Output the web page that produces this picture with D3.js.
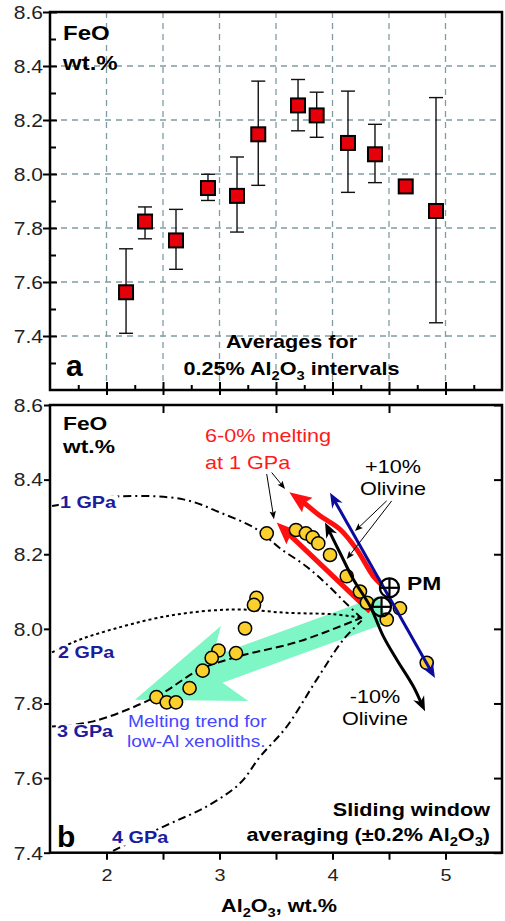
<!DOCTYPE html>
<html>
<head>
<meta charset="utf-8">
<script src="https://cdn.jsdelivr.net/npm/d3@7"></script>
<style>
  body { margin: 0; background: #fff; }
  svg { font-family: "Liberation Sans", Arial, Helvetica, sans-serif; }
</style>
</head>
<body>
<svg id="chart" width="505" height="921"></svg>
<script>
// ---- panel a: averages for 0.25% Al2O3 intervals ----
var avgAl  = [2.173, 2.341, 2.615, 2.898, 3.155, 3.343, 3.695, 3.860, 4.137, 4.376, 4.648, 4.916];
var avgFeO = [7.562, 7.824, 7.754, 7.948, 7.919, 8.147, 8.254, 8.217, 8.115, 8.073, 7.954, 7.863];
var avgLo  = [7.410, 7.760, 7.647, 7.902, 7.785, 7.958, 8.160, 8.136, 7.932, 7.968, 7.948, 7.449];
var avgHi  = [7.723, 7.878, 7.869, 7.999, 8.063, 8.344, 8.350, 8.303, 8.307, 8.184, 7.960, 8.283];

// ---- panel b: sliding window averages ----
var winAl  = [3.418, 3.677, 3.765, 3.825, 3.874, 3.978, 4.126, 4.243, 4.305, 4.480, 4.597,
              3.327, 3.305, 3.226, 3.146, 2.991, 2.931, 2.851, 2.735, 2.442, 2.533, 2.615, 4.834];
var winFeO = [8.256, 8.265, 8.256, 8.245, 8.229, 8.198, 8.141, 8.100, 8.070, 8.025, 8.055,
              8.083, 8.064, 8.001, 7.935, 7.942, 7.922, 7.888, 7.841, 7.817, 7.803, 7.803, 7.909];

// melting curves at 1-4 GPa
var gpa1Al  = [1.518, 2.104, 2.680, 3.004, 3.329, 3.535, 3.757, 3.934, 4.111, 4.259];
var gpa1FeO = [8.329, 8.355, 8.347, 8.312, 8.267, 8.216, 8.170, 8.124, 8.071, 8.028];
var gpa2Al  = [1.518, 1.721, 1.942, 2.532, 3.122, 3.595, 4.007, 4.258];
var gpa2FeO = [7.937, 7.966, 7.989, 8.034, 8.052, 8.043, 8.039, 8.030];
var gpa3Al  = [1.518, 1.883, 2.444, 2.827, 3.181, 3.712, 4.258];
var gpa3FeO = [7.738, 7.752, 7.819, 7.891, 7.927, 7.967, 8.030];
var gpa4Al  = [2.058, 2.533, 2.887, 3.181, 3.358, 3.595, 3.860, 4.096, 4.258];
var gpa4FeO = [7.405, 7.474, 7.524, 7.586, 7.657, 7.738, 7.864, 7.971, 8.022];

// 6-0% melting at 1 GPa (red)
var meltUpAl  = [4.438, 4.361, 4.214, 4.066, 3.889, 3.739, 3.618];
var meltUpFeO = [8.117, 8.141, 8.213, 8.267, 8.303, 8.340, 8.366];
var meltLoAl  = [4.332, 3.506];
var meltLoFeO = [8.047, 8.285];

// +/-10% olivine (black and blue)
var olAl   = [4.819, 4.715, 4.568, 4.450, 4.332, 4.184, 4.066, 3.934];
var olFeO  = [7.779, 7.846, 7.918, 7.980, 8.061, 8.133, 8.204, 8.285];
var ol2Al  = [4.907, 3.978];
var ol2FeO = [7.868, 8.365];

// melting trend for low-Al xenoliths (green arrow): tail, tip
var trendAl  = [4.447, 2.252];
var trendFeO = [8.052, 7.810];

// PM symbols
var pmAl  = [4.504, 4.434];
var pmFeO = [8.110, 8.059];

var aMajor = [7.4, 7.6, 7.8, 8.0, 8.2, 8.4, 8.6];
var aMinor = [7.3, 7.5, 7.7, 7.9, 8.1, 8.3, 8.5];
var bMajor = [7.4, 7.6, 7.8, 8.0, 8.2, 8.4, 8.6];
var xHalf = [2, 2.5, 3, 3.5, 4, 4.5, 5];
var xQuarter = [1.75, 2.25, 2.75, 3.25, 3.75, 4.25, 4.75, 5.25];

var svg = d3.select("#chart");
var xL = 50, xR = 502, aTop = 12, aBot = 390, bTop = 405, bBot = 852.7;

var x = d3.scaleLinear().domain([1.5, 5.5]).range([xL, xR]);
var ya = d3.scaleLinear().domain([7.2, 8.6]).range([aBot, aTop]);
var yb = d3.scaleLinear().domain([7.4, 8.6]).range([bBot, bTop]);

// text with the reference's slightly wide lettering
function addText(g, px, py, parts, size, weight, fill, anchor, sx) {
  var t = g.append("g")
    .attr("transform", "translate(" + px + "," + py + ") scale(" + (sx || 1.2) + ",1)")
    .append("text")
    .attr("font-size", size)
    .attr("font-weight", weight || "normal")
    .attr("fill", fill || "#000")
    .attr("text-anchor", anchor || "start");
  var shift = 0;
  parts.forEach(function(p) {
    var sub = typeof p !== "string";
    var s = t.append("tspan").text(sub ? p.sub : p);
    var target = sub ? size * 0.25 : 0;
    if (target !== shift) { s.attr("dy", target - shift); shift = target; }
    if (sub) s.attr("font-size", size * 0.68);
  });
  return t;
}

// white patch behind a label so the curve under it is hidden
function halo(t) {
  var bb = t.node().getBBox();
  d3.select(t.node().parentNode).insert("rect", "text")
    .attr("x", bb.x - 1).attr("y", bb.y + 2)
    .attr("width", bb.width + 2).attr("height", bb.height - 3)
    .attr("fill", "#fff");
  return t;
}

function arrowHead(g, tip, from, len, hw, back, color) {
  var dx = tip[0] - from[0], dy = tip[1] - from[1], L = Math.hypot(dx, dy);
  var ux = dx / L, uy = dy / L, nx = -uy, ny = ux;
  var b = [tip[0] - ux * len, tip[1] - uy * len];
  var pts = [tip, [b[0] + nx * hw, b[1] + ny * hw],
             [tip[0] - ux * len * back, tip[1] - uy * len * back],
             [b[0] - nx * hw, b[1] - ny * hw]];
  g.append("path").attr("d", "M" + pts.join("L") + "Z").attr("fill", color);
}

function arrowLine(g, xs, ys, o) {
  var pts = xs.map(function(v, i) { return [x(v), yb(ys[i])]; });
  var n = pts.length;
  var tipEnd = pts[n - 1], fromEnd = pts[n - 2];
  var tipStart = pts[0], fromStart = pts[1];
  var line = pts.slice();
  function pull(tip, from) {
    var dx = tip[0] - from[0], dy = tip[1] - from[1], L = Math.hypot(dx, dy);
    return [tip[0] - dx / L * o.len * 0.6, tip[1] - dy / L * o.len * 0.6];
  }
  if (o.end) line[n - 1] = pull(tipEnd, fromEnd);
  if (o.start) line[0] = pull(tipStart, fromStart);
  g.append("path")
    .attr("d", d3.line().curve(d3.curveCatmullRom)(line))
    .attr("fill", "none")
    .attr("stroke", o.color)
    .attr("stroke-width", o.width);
  if (o.end) arrowHead(g, tipEnd, fromEnd, o.len, o.hw, o.back, o.color);
  if (o.start) arrowHead(g, tipStart, fromStart, o.len, o.hw, o.back, o.color);
}

// ================= panel a =================
var ga = svg.append("g");

ga.append("g").selectAll("line").data([7.4, 7.6, 7.8, 8.0, 8.2, 8.4]).enter().append("line")
  .attr("x1", xL).attr("x2", xR)
  .attr("y1", function(d) { return ya(d); }).attr("y2", function(d) { return ya(d); })
  .attr("stroke", "#7f9ca3").attr("stroke-width", 1.3).attr("stroke-dasharray", "6,5");
ga.append("g").selectAll("line").data(xHalf).enter().append("line")
  .attr("y1", aTop).attr("y2", aBot)
  .attr("x1", function(d) { return x(d); }).attr("x2", function(d) { return x(d); })
  .attr("stroke", "#7f9ca3").attr("stroke-width", 1.3).attr("stroke-dasharray", "6,5");

var aIdx = d3.range(avgAl.length);
ga.append("g").selectAll("g").data(aIdx).enter().append("g").each(function(i) {
  var g = d3.select(this), cx = x(avgAl[i]);
  g.append("line").attr("x1", cx).attr("x2", cx).attr("y1", ya(avgHi[i])).attr("y2", ya(avgLo[i]));
  g.append("line").attr("x1", cx - 7).attr("x2", cx + 7).attr("y1", ya(avgHi[i])).attr("y2", ya(avgHi[i]));
  g.append("line").attr("x1", cx - 7).attr("x2", cx + 7).attr("y1", ya(avgLo[i])).attr("y2", ya(avgLo[i]));
}).attr("stroke", "#111").attr("stroke-width", 1.4);

ga.append("g").selectAll("rect").data(aIdx).enter().append("rect")
  .attr("x", function(i) { return x(avgAl[i]) - 7; })
  .attr("y", function(i) { return ya(avgFeO[i]) - 7; })
  .attr("width", 14).attr("height", 14)
  .attr("fill", "#e5000a").attr("stroke", "#000").attr("stroke-width", 2);

ga.append("rect").attr("x", xL).attr("y", aTop).attr("width", xR - xL).attr("height", aBot - aTop)
  .attr("fill", "none").attr("stroke", "#000").attr("stroke-width", 2.5);

var axA = ga.append("g").attr("transform", "translate(" + xL + ",0)")
  .call(d3.axisLeft(ya).tickValues(aMajor).tickSize(7).tickFormat(d3.format(".1f")));
ga.append("g").attr("transform", "translate(" + xL + ",0)")
  .call(d3.axisLeft(ya).tickValues(aMinor).tickSize(-6).tickFormat(""));
var axA3 = ga.append("g").attr("transform", "translate(0," + aBot + ")")
  .call(d3.axisBottom(x).tickValues(xHalf).tickSize(5).tickFormat(""));
ga.append("g").attr("transform", "translate(0," + aBot + ")")
  .call(d3.axisBottom(x).tickValues(xQuarter).tickSize(-5).tickFormat(""));
axA.selectAll(".tick line").attr("x1", 7);
axA3.selectAll(".tick line").attr("y1", -8);

addText(ga, 63, 40, ["FeO"], 20, "bold");
addText(ga, 63, 70, ["wt.%"], 20, "bold");
addText(ga, 66, 376, ["a"], 30, "bold", "#000", "start", 1);
addText(ga, 291.5, 348, ["Averages for"], 18, "bold", "#000", "middle");
addText(ga, 291.5, 375, ["0.25% Al", {sub: "2"}, "O", {sub: "3"}, " intervals"], 18, "bold", "#000", "middle");

// ================= panel b =================
var gb = svg.append("g");

// green trend arrow
(function() {
  var S = [x(trendAl[0]), yb(trendFeO[0])], T = [x(trendAl[1]), yb(trendFeO[1])];
  var dx = T[0] - S[0], dy = T[1] - S[1], L = Math.hypot(dx, dy);
  var ux = dx / L, uy = dy / L, nx = -uy, ny = ux;
  function p(back, side, base) {
    base = base || T;
    return [base[0] - ux * back + nx * side, base[1] - uy * back + ny * side];
  }
  var pts = [p(0, 14, S), p(88, 14), p(106, 40), T, p(106, -40), p(88, -14), p(0, -14, S)];
  gb.append("path").attr("d", "M" + pts.join("L") + "Z").attr("fill", "#7ef6c6");
})();

var curveLine = d3.line().curve(d3.curveCatmullRom)
  .x(function(d) { return x(d[0]); }).y(function(d) { return yb(d[1]); });
var curves = [
  {al: gpa1Al, feo: gpa1FeO, dash: "8,4,2,4"},
  {al: gpa2Al, feo: gpa2FeO, dash: "3,3"},
  {al: gpa3Al, feo: gpa3FeO, dash: "8,4"},
  {al: gpa4Al, feo: gpa4FeO, dash: "8,4,2,4"}
];
gb.append("g").selectAll("path").data(curves).enter().append("path")
  .attr("d", function(c) { return curveLine(c.al.map(function(v, i) { return [v, c.feo[i]]; })); })
  .attr("fill", "none").attr("stroke", "#000").attr("stroke-width", 2)
  .attr("stroke-dasharray", function(c) { return c.dash; });

arrowLine(gb, meltUpAl, meltUpFeO, {color: "#ff1010", width: 5, len: 22, hw: 9, back: 0.85, end: true});
arrowLine(gb, meltLoAl, meltLoFeO, {color: "#ff1010", width: 5, len: 22, hw: 9, back: 0.85, end: true});

gb.append("g").selectAll("circle").data(d3.range(winAl.length)).enter().append("circle")
  .attr("cx", function(i) { return x(winAl[i]); })
  .attr("cy", function(i) { return yb(winFeO[i]); })
  .attr("r", 6.6)
  .attr("fill", "#fbd02c").attr("stroke", "#000").attr("stroke-width", 1.5);

arrowLine(gb, olAl, olFeO, {color: "#000", width: 3, len: 15, hw: 6, back: 0.7, end: true, start: true});
arrowLine(gb, ol2Al, ol2FeO, {color: "#0b0b9e", width: 3, len: 15, hw: 6, back: 0.7, end: true, start: true});

gb.append("g").selectAll("g").data(d3.range(pmAl.length)).enter().append("g")
  .attr("transform", function(i) { return "translate(" + x(pmAl[i]) + "," + yb(pmFeO[i]) + ")"; })
  .each(function() {
    var g = d3.select(this);
    g.append("circle").attr("r", 9.5).attr("fill", "none");
    g.append("line").attr("x1", -9.5).attr("x2", 9.5);
    g.append("line").attr("y1", -9.5).attr("y2", 9.5);
  })
  .attr("stroke", "#000").attr("stroke-width", 2.2);

// thin pointer arrows from the annotations
var pointers = [
  [[4.479, 4.199], [8.343, 8.262]],
  [[4.524, 4.126], [8.343, 8.187]],
  [[3.462, 3.580], [8.419, 8.375]],
  [[3.418, 3.482], [8.415, 8.294]]
];
pointers.forEach(function(p) {
  arrowLine(gb, p[0], p[1], {color: "#000", width: 1, len: 8, hw: 3.2, back: 0.8, end: true});
});

gb.append("rect").attr("x", xL).attr("y", bTop).attr("width", xR - xL).attr("height", bBot - bTop)
  .attr("fill", "none").attr("stroke", "#000").attr("stroke-width", 2.5);

var axB = gb.append("g").attr("transform", "translate(" + xL + ",0)")
  .call(d3.axisLeft(yb).tickValues(bMajor).tickSize(6).tickFormat(d3.format(".1f")));
gb.append("g").attr("transform", "translate(" + xR + ",0)")
  .call(d3.axisRight(yb).tickValues(bMajor).tickSize(-8).tickFormat(""));
gb.append("g").attr("transform", "translate(0," + bTop + ")")
  .call(d3.axisTop(x).tickValues([2.5, 3.5, 4.5]).tickSize(-8).tickFormat(""));
var axBx = gb.append("g").attr("transform", "translate(0," + bBot + ")")
  .call(d3.axisBottom(x).tickValues(xHalf).tickSize(7)
    .tickFormat(function(d) { return Number.isInteger(d) ? d : ""; }));

// common axis styling
svg.selectAll(".domain").remove();
svg.selectAll(".tick line").attr("stroke", "#000").attr("stroke-width", 2);
[axA, axB].forEach(function(ax) {
  ax.attr("font-size", null).attr("font-family", null);
  ax.selectAll(".tick text").attr("x", null).attr("dy", null)
    .attr("transform", "translate(-7,6.3) scale(1.2,1)")
    .attr("font-size", 17.5).attr("fill", "#222");
});
axBx.attr("font-size", null).attr("font-family", null);
axBx.selectAll(".tick text").attr("y", 17).attr("transform", "scale(1.2,1)")
  .attr("font-size", 16.5).attr("fill", "#222");

// annotations
var navy = "#1c1c9e";
halo(addText(gb, x(1.588), yb(8.323), ["1 GPa"], 16.5, "bold", navy));
halo(addText(gb, x(1.571), yb(7.923), ["2 GPa"], 16.5, "bold", navy));
halo(addText(gb, x(1.562), yb(7.711), ["3 GPa"], 16.5, "bold", navy));
halo(addText(gb, x(2.049), yb(7.426), ["4 GPa"], 16.5, "bold", navy));

addText(gb, 63, 430, ["FeO"], 19, "bold");
addText(gb, 63, 453, ["wt.%"], 19, "bold");
addText(gb, 57, 847, ["b"], 30, "bold", "#000", "start", 1);

addText(gb, x(2.872), yb(8.501), ["6-0% melting"], 18, "normal", "#ff1a1a");
addText(gb, x(2.872), yb(8.428), ["at 1 GPa"], 18, "normal", "#ff1a1a");
addText(gb, x(4.535), yb(8.417), ["+10%"], 18, "normal", "#000", "middle");
addText(gb, x(4.535), yb(8.358), ["Olivine"], 18, "normal", "#000", "middle");
addText(gb, x(4.376), yb(7.802), ["-10%"], 18, "normal", "#000", "middle");
addText(gb, x(4.376), yb(7.743), ["Olivine"], 18, "normal", "#000", "middle");
addText(gb, x(4.659), yb(8.104), ["PM"], 19, "bold");
addText(gb, x(2.190), yb(7.738), ["Melting trend for"], 16, "normal", "#4646ff");
addText(gb, x(2.181), yb(7.684), ["low-Al xenoliths."], 16, "normal", "#4646ff");
addText(gb, 490, 816, ["Sliding window"], 18, "bold", "#000", "end");
addText(gb, 490, 841, ["averaging (\u00b10.2% Al", {sub: "2"}, "O", {sub: "3"}, ")"], 18, "bold", "#000", "end");

addText(svg, 279, 912, ["Al", {sub: "2"}, "O", {sub: "3"}, ", wt.%"], 18, "bold", "#000", "middle");
</script>
</body>
</html>
